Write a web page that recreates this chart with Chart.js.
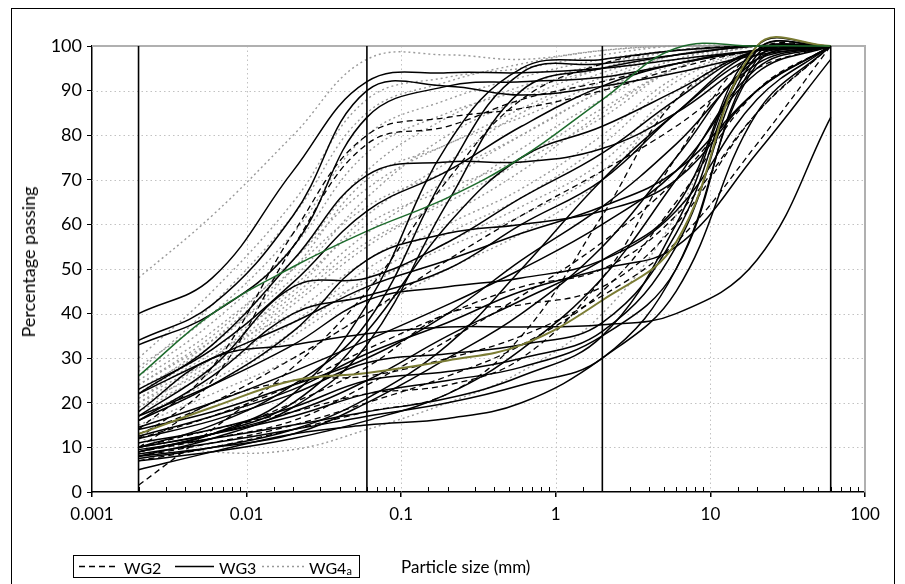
<!DOCTYPE html>
<html>
<head>
<meta charset="utf-8">
<script src="https://cdn.jsdelivr.net/npm/chart.js@4.4.0/dist/chart.umd.min.js"></script>
<style>
  html, body { margin: 0; padding: 0; background: #fff; }
  #wrap { position: relative; width: 905px; height: 584px; overflow: hidden; font-family: Lato, "Open Sans", sans-serif; color: #000; }
  #frame { position: absolute; left: 11px; top: 8px; width: 882px; height: 620px; border: 1px solid #000; }
  #chart { position: absolute; left: 0; top: 0; }
  #ytitle { position: absolute; left: 28px; top: 262px; transform: translate(-50%, -50%) rotate(-90deg); white-space: nowrap; font-size: 18px; }
  #xtitle { position: absolute; left: 401px; top: 566px; transform: translateY(-50%); white-space: nowrap; font-size: 17px; }
  #legend { position: absolute; left: 73px; top: 555px; width: 285px; height: 21px; border: 1px solid #000; font-size: 16px; }
  #legend svg { position: absolute; left: 0; top: 0; }
  #legend span { position: absolute; top: 50%; transform: translateY(-50%); white-space: nowrap; }
  #legend sub { font-size: 11px; vertical-align: baseline; position: relative; top: 1px; }
</style>
</head>
<body>
<div id="wrap">
  <div id="frame"></div>
  <canvas id="chart" width="905" height="584"></canvas>
  <div id="ytitle">Percentage passing</div>
  <div id="xtitle">Particle size (mm)</div>
  <div id="legend">
    <svg width="285" height="21">
      <line x1="5" y1="10.5" x2="41" y2="10.5" stroke="#000" stroke-width="1.5" stroke-dasharray="6 4"/>
      <line x1="101" y1="10.5" x2="140" y2="10.5" stroke="#000" stroke-width="1.5"/>
      <line x1="188" y1="10.5" x2="230" y2="10.5" stroke="#999" stroke-width="1.5" stroke-dasharray="2 3"/>
    </svg>
    <span style="left:50px">WG2</span>
    <span style="left:145px">WG3</span>
    <span style="left:235px">WG4<sub>a</sub></span>
  </div>
</div>
<script>
// tamices (mm) donde se leyeron los valores de cada curva
const sizes = [0.002, 0.006, 0.02, 0.06, 0.2, 0.6, 2, 6, 20, 60];
// lineas verticales de limite arcilla/limo/arena/grava
const boundarySizes = [0.002, 0.06, 2, 60];
const xTickLabels = ['0.001', '0.01', '0.1', '1', '10', '100'];

// WG2 (discontinua)
const wg2 = [
  [14, 28, 58, 80, 84, 86, 90, 95, 99, 100],
  [12, 25, 55, 78, 82, 88, 92, 96, 99, 100],
  [1.5, 14, 28, 45, 70, 88, 96, 99, 100, 100],
  [10, 20, 25, 26, 30, 35, 44, 56, 78, 100],
  [9, 13, 20, 28, 40, 42, 46, 60, 85, 100],
  [8, 11, 15, 20, 26, 33, 45, 65, 90, 100],
  [7, 10, 14, 18, 22, 35, 62, 88, 99, 100],
  [10, 14, 18, 22, 24, 30, 48, 75, 99, 100],
  [12, 17, 24, 32, 40, 46, 50, 62, 85, 100],
  [13, 20, 30, 40, 52, 62, 72, 82, 95, 100],
  [9, 12, 16, 24, 34, 44, 56, 70, 90, 100]
];

// WG3 (continua)
const wg3 = [
  [40, 48, 72, 92, 94, 94, 95, 97, 99, 100],
  [34, 42, 62, 90, 91, 89, 91, 94, 98, 100],
  [33, 40, 55, 84, 91, 92, 93, 96, 99, 100],
  [22, 33, 52, 71, 74, 74, 77, 85, 97, 100],
  [23, 32, 47, 63, 72, 82, 91, 96, 99, 100],
  [9, 13, 22, 42, 78, 95, 97, 99, 100, 100],
  [10, 15, 24, 38, 72, 94, 96, 98, 100, 100],
  [8, 12, 19, 33, 65, 90, 95, 98, 100, 100],
  [17, 28, 46, 48, 56, 66, 76, 88, 99, 100],
  [16, 26, 40, 44, 50, 60, 70, 85, 99, 100],
  [18, 30, 33, 35.5, 37, 37, 37.5, 40, 52, 84],
  [5, 9, 13, 15, 16.5, 20, 30, 45, 85, 100],
  [14, 18, 24, 30, 40, 52, 64, 78, 96, 100],
  [14.5, 20, 27, 34, 42, 50, 60, 72, 94, 100],
  [12, 16, 22, 29, 31, 33, 38, 58, 99, 100],
  [11, 14, 19, 25, 27, 30, 36, 55, 98, 100],
  [10, 13, 17, 22, 25, 28, 35, 50, 97, 100],
  [9.5, 12, 15, 18, 21, 26, 35, 60, 99, 100],
  [8.5, 11, 14, 17, 20, 24, 30, 50, 96, 100],
  [8, 10, 13, 20, 30, 40, 55, 75, 97, 100],
  [7.5, 10, 14, 21, 33, 50, 70, 85, 98, 100],
  [7, 9, 12, 16, 22, 32, 48, 70, 95, 100],
  [17, 24, 33, 43, 46, 48, 52, 63, 88, 100],
  [22, 30, 38, 46, 52, 58, 64, 72, 90, 100],
  [12.5, 17, 23, 31, 38, 45, 50, 55, 76, 97],
  [10, 13, 18, 25, 35, 43, 52, 64, 100, 100],
  [16, 24, 36, 52, 58, 60, 63, 70, 90, 100],
  [9, 13, 20, 36, 60, 75, 82, 90, 99, 100]
];

// WG4a (punteada gris)
const wg4a = [
  [48, 62, 80, 97, 98, 97, 99, 100, 100, 100],
  [30, 45, 65, 88, 93, 95, 98, 100, 100, 100],
  [28, 40, 58, 80, 88, 93, 97, 99, 100, 100],
  [25, 36, 52, 72, 84, 91, 96, 99, 100, 100],
  [24, 34, 48, 66, 80, 88, 95, 99, 100, 100],
  [22, 32, 45, 62, 74, 85, 93, 98, 100, 100],
  [21, 30, 44, 58, 70, 80, 90, 97, 100, 100],
  [20, 28, 42, 55, 66, 77, 88, 96, 100, 100],
  [19, 27, 40, 52, 62, 72, 85, 95, 100, 100],
  [18, 27, 38, 50, 60, 68, 80, 93, 99, 100],
  [20, 30, 46, 60, 68, 75, 86, 95, 100, 100],
  [23, 33, 50, 70, 78, 86, 94, 98, 100, 100],
  [26, 38, 55, 76, 85, 90, 95, 99, 100, 100],
  [17, 25, 36, 48, 58, 66, 78, 92, 99, 100],
  [22, 34, 50, 64, 72, 80, 90, 97, 100, 100],
  [16, 24, 35, 46, 56, 64, 74, 90, 99, 100],
  [12, 9, 9.5, 14, 20, 27, 40, 62, 98, 100],
  [15, 22, 30, 40, 50, 58, 70, 88, 99, 100],
  [27, 42, 62, 85, 92, 96, 99, 100, 100, 100],
  [24, 35, 52, 68, 78, 84, 92, 98, 100, 100],
  [19, 29, 43, 56, 65, 74, 84, 95, 100, 100],
  [21, 31, 40, 47, 55, 62, 72, 88, 99, 100]
];

// curvas destacadas
const greenCurve = [26, 40, 50.5, 58.5, 66, 75, 88, 99.5, 100, 100];
const oliveCurve = [13, 19, 25, 26.7, 29.5, 33, 43, 56, 100, 100];

const FONT = 'Lato, "Open Sans", sans-serif';

function isMajor(v) {
  const l = Math.log10(v);
  return Math.abs(l - Math.round(l)) < 1e-6;
}

function toPoints(values) {
  return values.map((v, i) => ({ x: sizes[i], y: v }));
}

function curve(values, style) {
  return Object.assign({
    data: toPoints(values),
    pointRadius: 0,
    tension: 0.4,
    fill: false,
    clip: false
  }, style);
}

const datasets = [];
wg4a.forEach(c => datasets.push(curve(c, { borderColor: '#9a9a9a', borderWidth: 1.4, borderDash: [2, 3], order: 4 })));
wg2.forEach(c => datasets.push(curve(c, { borderColor: '#000', borderWidth: 1.3, borderDash: [6, 4], order: 3 })));
wg3.forEach(c => datasets.push(curve(c, { borderColor: '#000', borderWidth: 1.5, order: 2 })));
datasets.push(curve(greenCurve, { borderColor: '#1d6b2c', borderWidth: 1.5, order: 1 }));
datasets.push(curve(oliveCurve, { borderColor: '#7b7c34', borderWidth: 2, order: 1 }));
boundarySizes.forEach(s => datasets.push({
  data: [{ x: s, y: 0 }, { x: s, y: 100 }],
  borderColor: '#000', borderWidth: 1.6, pointRadius: 0, order: 0
}));

// rejilla punteada, bordes grises y marcas menores hacia adentro
const gridPlugin = {
  id: 'gridPlugin',
  beforeDatasetsDraw(chart) {
    const { ctx, chartArea: a, scales: { x, y } } = chart;
    ctx.save();
    ctx.strokeStyle = '#c2c2c2';
    ctx.lineWidth = 1;
    ctx.setLineDash([1.5, 3]);
    y.ticks.forEach(t => {
      if (t.value <= 0 || t.value >= 100) return;
      const py = Math.round(y.getPixelForValue(t.value)) + 0.5;
      ctx.beginPath(); ctx.moveTo(a.left, py); ctx.lineTo(a.right, py); ctx.stroke();
    });
    x.ticks.forEach(t => {
      if (!isMajor(t.value) || t.value <= 0.001 || t.value >= 100) return;
      const px = Math.round(x.getPixelForValue(t.value)) + 0.5;
      ctx.beginPath(); ctx.moveTo(px, a.top); ctx.lineTo(px, a.bottom); ctx.stroke();
    });
    ctx.setLineDash([]);
    ctx.strokeStyle = '#b0b0b0';
    ctx.lineWidth = 2;
    ctx.beginPath();
    ctx.moveTo(a.left, a.top); ctx.lineTo(a.right, a.top); ctx.lineTo(a.right, a.bottom);
    ctx.stroke();
    ctx.strokeStyle = '#000';
    ctx.lineWidth = 1;
    x.ticks.forEach(t => {
      if (isMajor(t.value)) return;
      const px = Math.round(x.getPixelForValue(t.value)) + 0.5;
      ctx.beginPath(); ctx.moveTo(px, a.bottom); ctx.lineTo(px, a.bottom - 5); ctx.stroke();
    });
    ctx.restore();
  }
};

new Chart(document.getElementById('chart'), {
  type: 'line',
  data: { datasets: datasets },
  options: {
    responsive: false,
    animation: false,
    events: [],
    layout: { padding: { left: 0, top: 46, right: 40, bottom: 52 } },
    elements: { line: { capBezierPoints: false } },
    plugins: { legend: { display: false }, tooltip: { enabled: false } },
    scales: {
      x: {
        type: 'logarithmic',
        min: 0.001,
        max: 100,
        afterFit: s => { s.height = 40; },
        ticks: {
          autoSkip: false,
          maxRotation: 0,
          padding: 7,
          color: '#000',
          font: { family: FONT, size: 17 },
          callback: v => isMajor(v) ? xTickLabels[Math.round(Math.log10(v)) + 3] : ''
        },
        grid: {
          drawOnChartArea: false,
          tickLength: 5,
          lineWidth: 1.5,
          color: c => (c.tick && isMajor(c.tick.value)) ? '#000' : 'rgba(0,0,0,0)'
        },
        border: { color: '#000', width: 1.5 }
      },
      y: {
        min: 0,
        max: 100,
        afterFit: s => { s.width = 92; },
        ticks: {
          stepSize: 10,
          padding: 5,
          color: '#000',
          font: { family: FONT, size: 18 }
        },
        grid: { drawOnChartArea: false, tickLength: 5, color: '#000', lineWidth: 1 },
        border: { color: '#000', width: 1.5 }
      }
    }
  },
  plugins: [gridPlugin]
});
</script>
</body>
</html>
